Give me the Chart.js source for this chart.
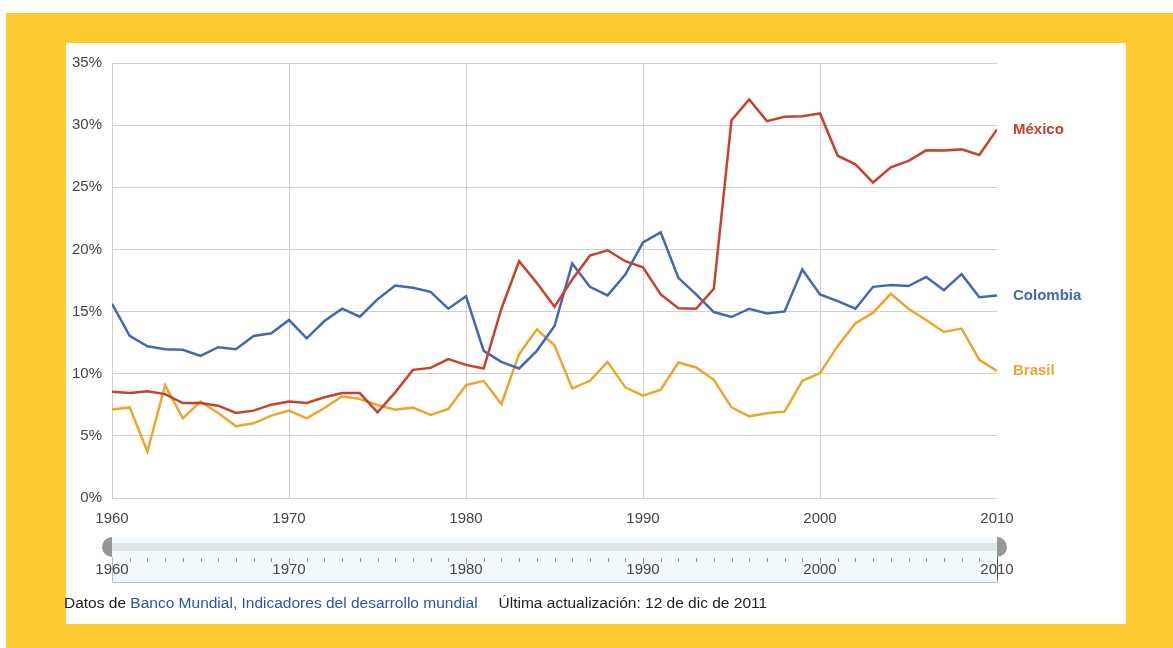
<!DOCTYPE html>
<html>
<head>
<meta charset="utf-8">
<script src="https://cdn.jsdelivr.net/npm/chart.js@4"></script>
<style>
  html, body { margin: 0; padding: 0; background: #fff; }
  canvas { display: block; }
</style>
</head>
<body>
<canvas id="c" width="1173" height="648"></canvas>
<script>
// Años y series (% del PIB)
const years = [1960,1961,1962,1963,1964,1965,1966,1967,1968,1969,
               1970,1971,1972,1973,1974,1975,1976,1977,1978,1979,
               1980,1981,1982,1983,1984,1985,1986,1987,1988,1989,
               1990,1991,1992,1993,1994,1995,1996,1997,1998,1999,
               2000,2001,2002,2003,2004,2005,2006,2007,2008,2009,2010];

const seriesNames = ['México', 'Colombia', 'Brasil'];

const mexico = [8.55, 8.44, 8.58, 8.36, 7.64, 7.64, 7.43, 6.84, 7.03, 7.51,
                7.77, 7.64, 8.10, 8.44, 8.44, 6.89, 8.50, 10.31, 10.47, 11.17,
                10.71, 10.42, 15.23, 19.05, 17.31, 15.39, 17.58, 19.50, 19.93, 19.05,
                18.57, 16.38, 15.26, 15.23, 16.83, 30.40, 32.06, 30.32, 30.67, 30.72,
                30.94, 27.54, 26.85, 25.38, 26.61, 27.12, 27.97, 27.95, 28.05, 27.60, 29.66];

const colombia = [15.63, 13.04, 12.21, 11.97, 11.92, 11.43, 12.13, 11.97, 13.04, 13.25,
                  14.32, 12.85, 14.24, 15.23, 14.59, 15.98, 17.10, 16.91, 16.59, 15.23,
                  16.24, 11.84, 10.95, 10.42, 11.84, 13.84, 18.86, 16.99, 16.30, 17.98,
                  20.57, 21.37, 17.71, 16.38, 14.96, 14.56, 15.23, 14.85, 15.01, 18.38,
                  16.38, 15.84, 15.23, 16.99, 17.13, 17.05, 17.79, 16.72, 18.01, 16.16, 16.30];

const brasil = [7.11, 7.29, 3.74, 9.08, 6.41, 7.75, 6.84, 5.77, 6.01, 6.63,
                7.03, 6.41, 7.24, 8.18, 7.96, 7.48, 7.11, 7.27, 6.68, 7.16,
                9.08, 9.43, 7.56, 11.57, 13.57, 12.29, 8.82, 9.43, 10.95, 8.90,
                8.23, 8.71, 10.90, 10.50, 9.51, 7.29, 6.57, 6.81, 6.95, 9.43,
                10.05, 12.24, 14.05, 14.91, 16.43, 15.23, 14.32, 13.36, 13.63, 11.11, 10.23];

const yTicks = [0, 5, 10, 15, 20, 25, 30, 35];
const xTicks = [1960, 1970, 1980, 1990, 2000, 2010];

const lineColors  = ['#c8412a', '#4068b4', '#eea52c'];
const labelColors = ['#c4402b', '#4468b2', '#eba534'];

const FONT = '"Liberation Sans", Arial, sans-serif';

function toPoints(values) {
  return years.map((yr, i) => ({ x: yr, y: values[i] }));
}

// Marco amarillo y panel blanco
const framePlugin = {
  id: 'frame',
  beforeDraw(chart) {
    const ctx = chart.ctx;
    ctx.save();
    ctx.fillStyle = '#ffffff';
    ctx.fillRect(0, 0, chart.width, chart.height);
    ctx.fillStyle = '#fec92f';
    ctx.fillRect(6, 13, chart.width - 6, chart.height - 13);
    ctx.fillStyle = '#ffffff';
    ctx.fillRect(66, 43, 1126 - 66, 624 - 43);
    ctx.restore();
  }
};

// Nombres de país al final de cada línea
const endLabelPlugin = {
  id: 'endLabels',
  afterDatasetsDraw(chart) {
    const ctx = chart.ctx;
    const yScale = chart.scales.y;
    const xScale = chart.scales.x;
    ctx.save();
    ctx.font = 'bold 15px ' + FONT;
    ctx.textBaseline = 'middle';
    ctx.textAlign = 'left';
    chart.data.datasets.forEach((ds, i) => {
      const last = ds.data[ds.data.length - 1];
      ctx.fillStyle = labelColors[i];
      ctx.fillText(ds.label, xScale.getPixelForValue(last.x) + 16, yScale.getPixelForValue(last.y));
    });
    ctx.restore();
  }
};

// Selector de rango y nota de fuente
const sliderPlugin = {
  id: 'slider',
  afterDraw(chart) {
    const ctx = chart.ctx;
    const xs = chart.scales.x;
    const x0 = xs.getPixelForValue(years[0]);
    const x1 = xs.getPixelForValue(years[years.length - 1]);
    const top = 537, bottom = 582;
    ctx.save();
    // caja
    ctx.fillStyle = '#f1f9fc';
    ctx.fillRect(x0, top, x1 - x0, bottom - top);
    // banda de la pista
    ctx.fillStyle = '#dfe6e9';
    ctx.fillRect(x0, 543, x1 - x0, 8);
    // bordes
    ctx.strokeStyle = '#b9c0c4';
    ctx.lineWidth = 1;
    ctx.beginPath();
    ctx.moveTo(x0 + 0.5, 557); ctx.lineTo(x0 + 0.5, bottom + 0.5);
    ctx.lineTo(x1 + 0.5, bottom + 0.5); ctx.lineTo(x1 + 0.5, 557);
    ctx.stroke();
    ctx.strokeStyle = '#555';
    ctx.beginPath();
    ctx.moveTo(x1 + 0.5, 557); ctx.lineTo(x1 + 0.5, 580);
    ctx.stroke();
    // marcas anuales
    ctx.strokeStyle = '#8d9398';
    years.forEach(yr => {
      if (yr === years[0] || yr === years[years.length - 1]) return;
      const px = Math.round(xs.getPixelForValue(yr)) + 0.5;
      ctx.beginPath();
      ctx.moveTo(px, 558);
      ctx.lineTo(px, yr % 10 === 0 ? 564 : 562);
      ctx.stroke();
    });
    // asas
    ctx.fillStyle = '#969696';
    ctx.beginPath();
    ctx.arc(x0, 547, 10, Math.PI / 2, Math.PI * 1.5);
    ctx.closePath();
    ctx.fill();
    ctx.beginPath();
    ctx.arc(x1, 547, 10, -Math.PI / 2, Math.PI / 2);
    ctx.closePath();
    ctx.fill();
    // etiquetas del selector
    ctx.fillStyle = '#444';
    ctx.font = '15px ' + FONT;
    ctx.textAlign = 'center';
    ctx.textBaseline = 'middle';
    xTicks.forEach(yr => {
      ctx.fillText(String(yr), xs.getPixelForValue(yr), 570);
    });
    // nota de fuente
    ctx.font = '15.5px ' + FONT;
    ctx.textAlign = 'left';
    let tx = 64;
    const ty = 604;
    ctx.fillStyle = '#222';
    ctx.fillText('Datos de ', tx, ty);
    tx += ctx.measureText('Datos de ').width;
    const src = 'Banco Mundial, Indicadores del desarrollo mundial';
    ctx.fillStyle = '#2b55a8';
    ctx.fillText(src, tx, ty);
    tx += ctx.measureText(src).width + 21;
    ctx.fillStyle = '#222';
    ctx.fillText('Última actualización: 12 de dic de 2011', tx, ty);
    ctx.restore();
  }
};

const datasets = [mexico, colombia, brasil].map((vals, i) => ({
  label: seriesNames[i],
  data: toPoints(vals),
  borderColor: lineColors[i],
  backgroundColor: lineColors[i],
  borderWidth: 2.5,
  pointRadius: 0,
  pointHoverRadius: 0,
  tension: 0,
  fill: false
}));

new Chart(document.getElementById('c'), {
  type: 'line',
  data: { datasets },
  options: {
    responsive: false,
    animation: false,
    events: [],
    layout: { padding: { left: 0, top: 63, right: 176, bottom: 120 } },
    plugins: {
      legend: { display: false },
      tooltip: { enabled: false },
      title: { display: false }
    },
    scales: {
      x: {
        type: 'linear',
        min: years[0],
        max: years[years.length - 1],
        afterFit(scale) { scale.height = 30; },
        afterBuildTicks(scale) { scale.ticks = xTicks.map(v => ({ value: v })); },
        ticks: {
          color: '#444',
          font: { family: FONT, size: 15 },
          padding: 12,
          maxRotation: 0,
          callback: v => String(v)
        },
        grid: {
          color: ctx => (ctx.tick && ctx.tick.value === years[years.length - 1]) ? 'rgba(0,0,0,0)' : '#cfcfcf',
          lineWidth: 1,
          drawTicks: false
        },
        border: { display: false }
      },
      y: {
        min: 0,
        max: 35,
        afterFit(scale) { scale.width = 112; },
        afterBuildTicks(scale) { scale.ticks = yTicks.map(v => ({ value: v })); },
        ticks: {
          color: '#444',
          font: { family: FONT, size: 15 },
          padding: 10,
          callback: v => v + '%'
        },
        grid: { color: '#cfcfcf', lineWidth: 1, drawTicks: false },
        border: { display: true, color: '#cfcfcf' }
      }
    }
  },
  plugins: [framePlugin, endLabelPlugin, sliderPlugin]
});
</script>
</body>
</html>
